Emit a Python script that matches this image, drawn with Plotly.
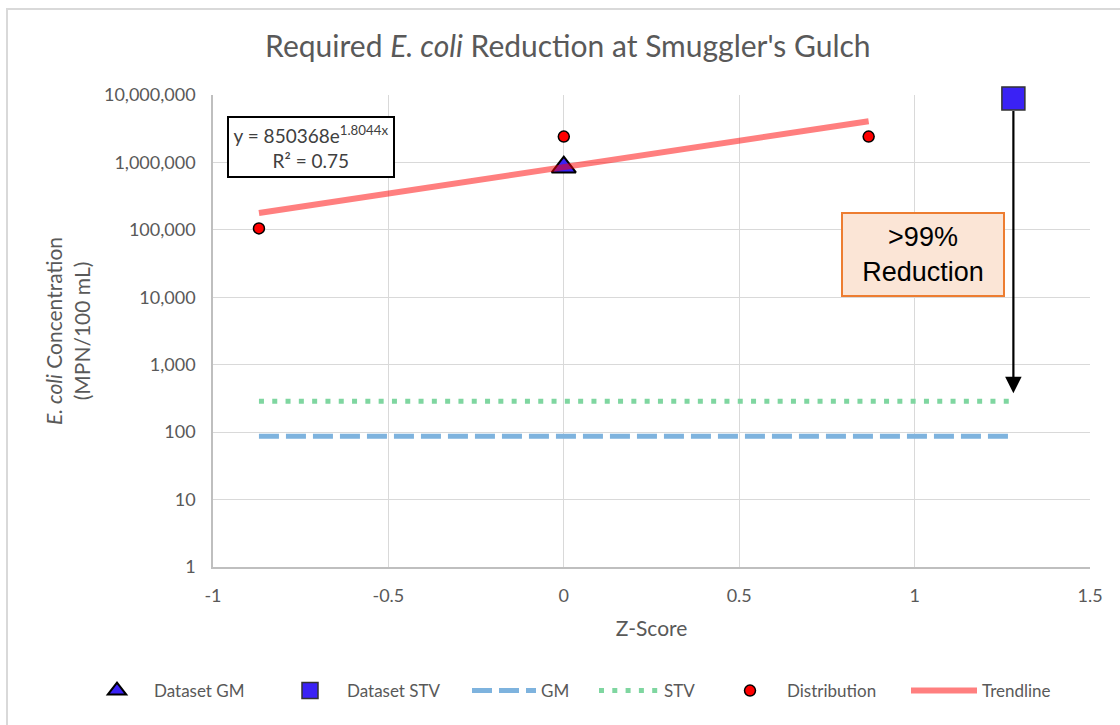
import math
import plotly.graph_objects as go

# ---- data ----
DIST_Z = [-0.869, 0.0, 0.869]
DIST_Y = [105000, 2420000, 2420000]
GM_Z = [0.0]
GM_Y = [850368]
STV_Z = [1.2816]
STV_Y = [8900000]
GM_STD = 87
STV_STD = 287
TREND_A = 850368
TREND_B = 1.8044
R2 = 0.75
Y_TICKS = [1, 10, 100, 1000, 10000, 100000, 1000000, 10000000]
X_TICKS = [-1, -0.5, 0, 0.5, 1, 1.5]
X_TICK_TEXT = ["-1", "-0.5", "0", "0.5", "1", "1.5"]

FONT = "Lato"
GRAY = "#595959"

trend_x = [min(DIST_Z), max(DIST_Z)]
trend_y = [TREND_A * math.exp(TREND_B * z) for z in trend_x]
line_x = [min(DIST_Z), STV_Z[0]]

fig = go.Figure()

fig.add_trace(go.Scatter(x=line_x, y=[GM_STD, GM_STD], mode="lines", name="GM",
                         line=dict(color="#7EB3DE", width=5, dash="20px,7px"), legend="legend3"))
fig.add_trace(go.Scatter(x=line_x, y=[STV_STD, STV_STD], mode="lines", name="STV",
                         line=dict(color="#7FD6A0", width=5, dash="5px,8.3px"), legend="legend4"))
fig.add_trace(go.Scatter(x=GM_Z, y=GM_Y, mode="markers", name="Dataset GM",
                         marker=dict(symbol="triangle-up", size=21, color="#3A22F5",
                                     line=dict(color="black", width=2)), legend="legend"))
fig.add_trace(go.Scatter(x=trend_x, y=trend_y, mode="lines", name="Trendline",
                         line=dict(color="rgba(255,0,0,0.5)", width=6), legend="legend6"))
fig.add_trace(go.Scatter(x=DIST_Z, y=DIST_Y, mode="markers", name="Distribution",
                         marker=dict(symbol="circle", size=11, color="#FF0000",
                                     line=dict(color="black", width=1.5)), legend="legend5"))
fig.add_trace(go.Scatter(x=STV_Z, y=STV_Y, mode="markers", name="Dataset STV", cliponaxis=False,
                         marker=dict(symbol="square", size=23, color="#3A22F5",
                                     line=dict(color="#333333", width=1.5)), legend="legend2"))

W, H = 1120, 725
ML, MR, MT, MB = 213, 30, 95, 158
PW, PH = W - ML - MR, H - MT - MB

def px_x(p):
    return (p - ML) / PW

def px_y(p):
    return (H - MB - p) / PH

legend_common = dict(orientation="h", yanchor="middle", xanchor="left",
                      bgcolor="rgba(0,0,0,0)", font=dict(family=FONT, size=17, color=GRAY))
leg_pos = {"legend": 80, "legend2": 273, "legend3": 467, "legend4": 594, "legend5": 713, "legend6": 906}
leg_w = {"legend": 64, "legend2": 64, "legend3": 64, "legend4": 60, "legend5": 64, "legend6": 66}
layout_legends = {}
for k, v in leg_pos.items():
    layout_legends[k] = dict(legend_common, x=px_x(v), y=px_y(691), itemwidth=leg_w[k])

y_ticktext = [f"{v:,}" for v in Y_TICKS]

fig.update_layout(
    width=W, height=H,
    margin=dict(l=ML, r=MR, t=MT, b=MB),
    paper_bgcolor="white", plot_bgcolor="white",
    showlegend=True,
    title=dict(text="Required <i>E. coli</i> Reduction at Smuggler's Gulch",
               x=0.507, xanchor="center", y=1 - 46 / H, yanchor="middle",
               font=dict(family=FONT, size=30, color=GRAY)),
    xaxis=dict(range=[-1, 1.5], tickvals=X_TICKS, ticktext=X_TICK_TEXT,
               showgrid=True, gridcolor="#D9D9D9", gridwidth=1,
               showline=True, linecolor="#BFBFBF", linewidth=1.5, zeroline=False,
               ticks="", ticklabelstandoff=12, tickfont=dict(family=FONT, size=18, color=GRAY),
               title=dict(text="Z-Score", font=dict(family=FONT, size=21, color=GRAY), standoff=16)),
    yaxis=dict(type="log", range=[0, 7], tickvals=Y_TICKS, ticktext=y_ticktext,
               showgrid=True, gridcolor="#D9D9D9", gridwidth=1,
               showline=True, linecolor="#BFBFBF", linewidth=1.5, zeroline=False,
               ticks="", ticklabelstandoff=12, tickfont=dict(family=FONT, size=18, color=GRAY),
               title=dict(text="<i>E. coli</i> Concentration<br>(MPN/100 mL)",
                          font=dict(family=FONT, size=21, color=GRAY), standoff=8)),
    **layout_legends,
)

# outer chart border
fig.add_shape(type="rect", xref="paper", yref="paper",
              x0=px_x(7), x1=px_x(1140), y0=px_y(745), y1=px_y(9),
              line=dict(color="#D9D9D9", width=2), fillcolor="rgba(0,0,0,0)", layer="below")

# equation box
fig.add_annotation(xref="paper", yref="paper", x=px_x(311), y=px_y(147),
                   xanchor="center", yanchor="middle",
                   text=f"y = {TREND_A}e<sup>{TREND_B}x</sup><br>R² = {R2}",
                   showarrow=False, font=dict(family=FONT, size=19, color="#404040"),
                   bgcolor="white", bordercolor="black", borderwidth=2, borderpad=2,
                   width=160, height=54, align="center")

# reduction arrow
fig.add_annotation(x=STV_Z[0], y=math.log10(STV_STD), ax=STV_Z[0], ay=math.log10(STV_Y[0]),
                   xref="x", yref="y", axref="x", ayref="y", text="",
                   showarrow=True, arrowhead=2, arrowsize=1.5, arrowwidth=2.2, arrowcolor="black",
                   standoff=8, startstandoff=11)

# reduction label
fig.add_annotation(xref="paper", yref="paper", x=px_x(923), y=px_y(254),
                   xanchor="center", yanchor="middle",
                   text="&gt;99%<br>Reduction", showarrow=False,
                   font=dict(family="Liberation Sans", size=27, color="black"),
                   bgcolor="#FBE5D6", bordercolor="#ED7D31", borderwidth=2,
                   width=158, height=79, align="center")

fig.write_html("out.html", config={"displayModeBar": False},
               post_script="document.body.style.margin='0';")
